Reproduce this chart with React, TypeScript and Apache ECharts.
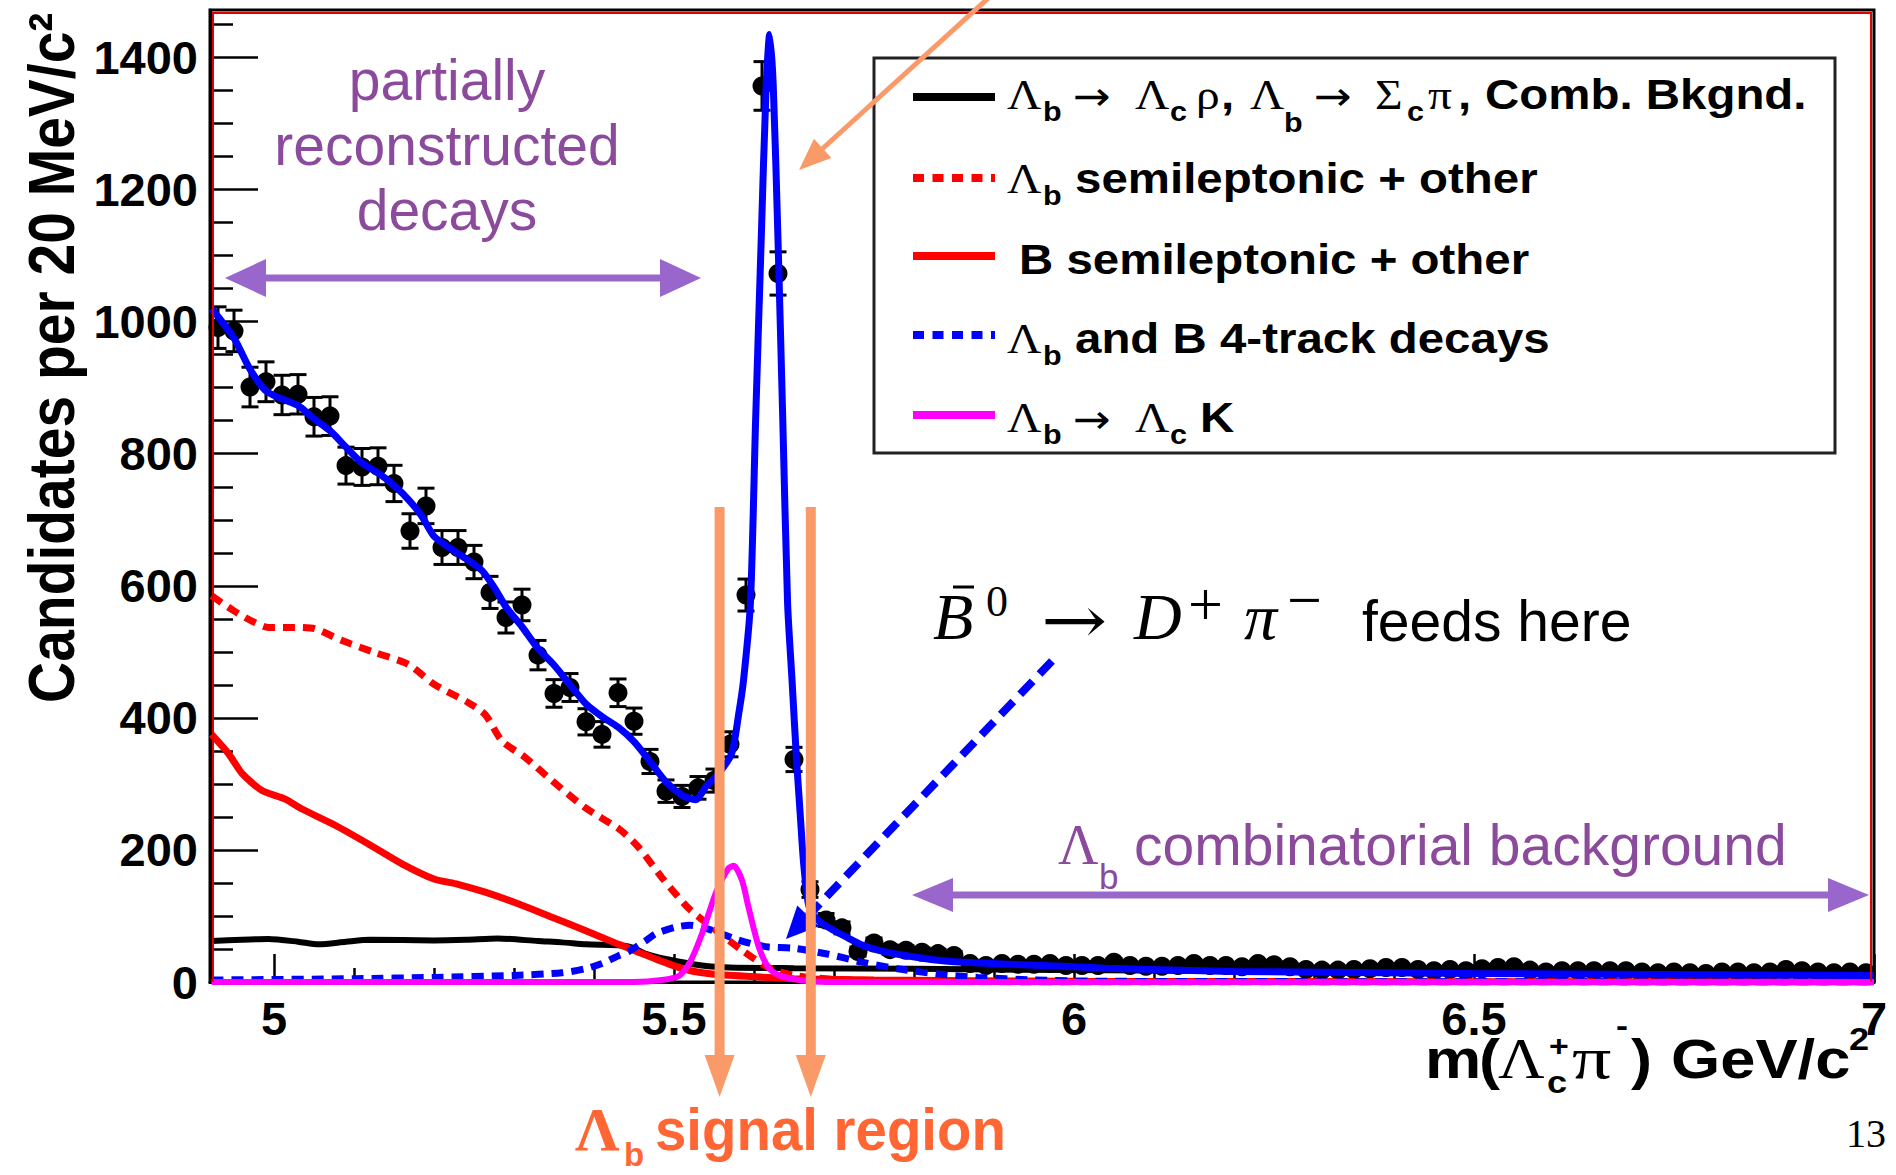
import React, { useEffect, useRef } from 'react';
import * as echarts from 'echarts';

// ---- histogram: Λc⁺π⁻ candidates, 20 MeV/c² bins starting at 4.92 GeV/c² ----
const BIN_LOW = 4.92;
const BIN_WIDTH = 0.02;
const counts = [
  991, 986, 901, 909, 889, 890, 856, 857, 782, 780, // 4.93 – 5.11
  781, 755, 683, 721, 658, 658, 636, 590, 552, 571, // 5.13 – 5.31
  495, 437, 446, 394, 375, 438, 395, 334, 289, 281, // 5.33 – 5.51
  294, 305, 360, 586, 1357, 1073, 337, 140, 94, 82, // 5.53 – 5.71
  46, 59, 49, 48, 45, 43, 40, 28, 25, 28, // 5.73 – 5.91
  27, 27, 28, 25, 25, 25, 30, 25, 24, 24, // 5.93 – 6.11
  25, 28, 25, 25, 23, 28, 26, 23, 19, 18, // 6.13 – 6.31
  18, 19, 20, 22, 22, 19, 17, 19, 17, 20, // 6.33 – 6.51
  22, 23, 18, 15, 17, 17, 17, 17, 17, 15, // 6.53 – 6.71
  14, 15, 14, 13, 15, 15, 14, 15, 19, 17, // 6.73 – 6.91
  15, 14, 15, 14, // 6.93 – 6.99
];

// ---- fit components, [mass GeV/c², candidates] ----
const fitTotal: [number, number][] = [
  [4.922, 1020], [4.95, 975], [4.97, 928], [4.99, 895], [5.01, 883], [5.03, 873], [5.05, 853],
  [5.07, 835], [5.09, 810], [5.11, 786], [5.13, 771], [5.15, 752], [5.17, 728], [5.185, 705],
  [5.2, 675], [5.22, 657], [5.24, 641], [5.26, 623], [5.275, 598], [5.29, 568], [5.31, 538],
  [5.33, 505], [5.35, 480], [5.37, 450], [5.39, 421], [5.41, 402], [5.43, 386], [5.45, 364],
  [5.47, 334], [5.49, 303], [5.51, 283], [5.527, 276], [5.54, 296], [5.556, 316], [5.572, 346],
  [5.581, 407], [5.587, 458], [5.5955, 573], [5.602, 850], [5.609, 1124], [5.615, 1350],
  [5.6196, 1435], [5.624, 1360], [5.63, 1124], [5.636, 850], [5.642, 573], [5.6475, 458],
  [5.653, 340], [5.658, 250], [5.662, 180], [5.668, 118], [5.675, 100], [5.685, 89], [5.7, 78],
  [5.714, 69], [5.735, 56], [5.756, 48], [5.785, 41], [5.83, 33], [5.876, 29], [5.96, 25],
  [6.04, 21], [6.2, 16], [6.5, 13], [7.0, 10],
];
const combBkg: [number, number][] = [
  [4.922, 62], [4.96, 64], [4.993, 65], [5.03, 61], [5.056, 57], [5.09, 61], [5.12, 64],
  [5.2, 63], [5.24, 64], [5.28, 66], [5.33, 62], [5.36, 60], [5.39, 57], [5.443, 54],
  [5.464, 43], [5.493, 34], [5.535, 25], [5.57, 22], [5.65, 21], [5.8, 20], [6.0, 18],
  [6.5, 14], [7.0, 11],
];
const lbSemilep: [number, number][] = [
  [4.922, 585], [4.95, 562], [4.975, 545], [4.993, 537], [5.026, 537], [5.051, 535],
  [5.085, 517], [5.126, 499], [5.168, 481], [5.2, 451], [5.243, 423], [5.264, 405],
  [5.285, 365], [5.314, 340], [5.3475, 305], [5.389, 264], [5.431, 232], [5.455, 205],
  [5.485, 158], [5.518, 112], [5.5475, 83], [5.585, 48], [5.618, 22], [5.65, 10], [5.7, 4],
  [5.8, 1], [6.0, 0], [7.0, 0],
];
const bSemilep: [number, number][] = [
  [4.922, 375], [4.943, 346], [4.96, 316], [4.985, 290], [5.014, 277], [5.035, 262],
  [5.077, 237], [5.118, 209], [5.16, 179], [5.2, 156], [5.23, 148], [5.264, 136], [5.306, 118],
  [5.3475, 98], [5.389, 78], [5.431, 57], [5.4725, 37], [5.514, 19], [5.5475, 12], [5.6, 8],
  [5.65, 5], [5.75, 3], [6.0, 1], [7.0, 0],
];
const fourTrack: [number, number][] = [
  [4.922, 3], [5.1, 5], [5.2, 7], [5.3, 10], [5.36, 14], [5.389, 20], [5.41, 28], [5.431, 40],
  [5.443, 46], [5.464, 62], [5.477, 73], [5.502, 83], [5.52, 86], [5.535, 83], [5.555, 75],
  [5.577, 65], [5.6, 57], [5.618, 53], [5.65, 51], [5.693, 42], [5.735, 30], [5.78, 20],
  [5.83, 12], [5.88, 7], [5.95, 3], [6.05, 1], [7.0, 0],
];
const lbToLcK: [number, number][] = [
  [4.922, 0], [5.45, 0], [5.485, 3], [5.506, 9], [5.52, 30], [5.535, 73], [5.552, 134],
  [5.568, 172], [5.5746, 176], [5.585, 154], [5.593, 114], [5.606, 53], [5.618, 22],
  [5.63, 11], [5.643, 6], [5.67, 1], [5.7, 0], [7.0, 0],
];

// ---- axes ----
const X_MIN = 4.92;
const X_MAX = 7.0;
const Y_MAX = 1472;
const xMajorTicks = [5, 5.5, 6, 6.5, 7];
const xMinorTicks = [5.1, 5.2, 5.3, 5.4, 5.6, 5.7, 5.8, 5.9, 6.1, 6.2, 6.3, 6.4, 6.6, 6.7, 6.8, 6.9];
const yMajorTicks = [0, 200, 400, 600, 800, 1000, 1200, 1400];
const yMinorTicks = [50, 100, 150, 250, 300, 350, 450, 500, 550, 650, 700, 750, 850, 900, 950,
  1050, 1100, 1150, 1250, 1300, 1350, 1450];
const signalWindow = [5.557, 5.671];

const SANS = '"Liberation Sans", Arial, Helvetica, sans-serif';
const SERIF = '"Liberation Serif", "Times New Roman", serif';
const ARROWS = '"DejaVu Sans", sans-serif';
const MATH_ARROW = '"DejaVu Serif", serif';
const K = 1.13; // horizontal stretch of the plot's own lettering
const PURPLE_TEXT = '#8B4A9C';
const PURPLE_ARROW = '#9966CC';
const ORANGE_LINE = '#FA9A68';
const ORANGE_TEXT = '#FF6633';

type Opt = { family?: string; weight?: string; italic?: boolean; color?: string; sx?: number; align?: string; z?: number };

// text placed by its alphabetic baseline
function label(x: number, baseline: number, text: string, size: number, o: Opt = {}): any {
  const family = o.family ?? SANS;
  const central = family === SERIF ? 0.3375 : 0.3465;
  return {
    type: 'text', x, y: baseline - central * size, scaleX: o.sx ?? 1, z: o.z ?? 100, silent: true,
    style: {
      text, fontSize: size, fontFamily: family, fontWeight: o.weight ?? 'normal',
      fontStyle: o.italic ? 'italic' : 'normal', fill: o.color ?? '#000',
      align: o.align ?? 'left', verticalAlign: 'middle',
    },
  };
}

function arrow(x1: number, y1: number, x2: number, y2: number, color: string, width: number,
  headLen: number, headHalf: number, dash?: number[], z = 100): any[] {
  const dx = x2 - x1, dy = y2 - y1, L = Math.hypot(dx, dy);
  const ux = dx / L, uy = dy / L, nx = -uy, ny = ux;
  const bx = x2 - ux * headLen, by = y2 - uy * headLen;
  return [
    { type: 'line', z, silent: true, shape: { x1, y1, x2: bx, y2: by }, style: { stroke: color, lineWidth: width, lineDash: dash } },
    { type: 'polygon', z, silent: true, shape: { points: [[x2, y2], [bx + nx * headHalf, by + ny * headHalf], [bx - nx * headHalf, by - ny * headHalf]] }, style: { fill: color } },
  ];
}

function doubleArrow(xa: number, xb: number, y: number, color: string, width: number, headLen: number, headHalf: number): any[] {
  return [
    { type: 'line', z: 100, silent: true, shape: { x1: xa + headLen, y1: y, x2: xb - headLen, y2: y }, style: { stroke: color, lineWidth: width } },
    { type: 'polygon', z: 100, silent: true, shape: { points: [[xa, y], [xa + headLen, y - headHalf], [xa + headLen, y + headHalf]] }, style: { fill: color } },
    { type: 'polygon', z: 100, silent: true, shape: { points: [[xb, y], [xb - headLen, y - headHalf], [xb - headLen, y + headHalf]] }, style: { fill: color } },
  ];
}

function legendGraphics(): any[] {
  const g: any[] = [];
  g.push({ type: 'rect', z: 90, silent: true, shape: { x: 874, y: 58, width: 961, height: 395 }, style: { fill: '#fff', stroke: '#222', lineWidth: 3 } });
  const sample = (y: number, color: string, dotted: boolean) => g.push({
    type: 'line', z: 100, silent: true, shape: { x1: 913, y1: y, x2: 995, y2: y },
    style: { stroke: color, lineWidth: 8, lineDash: dotted ? [11, 8.5] : undefined },
  });
  const L = (x: number, b: number, t: string) => g.push(label(x, b, t, 42, { family: SERIF, sx: K }));
  const S = (x: number, b: number, t: string) => g.push(label(x, b, t, 27, { weight: 'bold', sx: K }));
  const B = (x: number, b: number, t: string) => g.push(label(x, b, t, 42, { weight: 'bold', sx: K }));
  const A = (x: number, b: number) => g.push(label(x, b, '→', 40, { family: ARROWS, sx: K }));

  // row 1
  sample(97, '#000000', false);
  L(1007, 109, 'Λ'); S(1043, 121, 'b'); A(1073, 110); L(1135, 109, 'Λ'); S(1170, 121, 'c');
  L(1196, 109, 'ρ'); B(1221, 109, ','); L(1250, 109, 'Λ'); S(1284, 132, 'b'); A(1314, 110);
  L(1375, 109, 'Σ'); S(1407, 121, 'c'); L(1428, 109, 'π'); B(1458, 109, ','); B(1485, 109, 'Comb. Bkgnd.');
  // row 2
  sample(178, '#FF0000', true);
  L(1007, 193, 'Λ'); S(1043, 205, 'b'); B(1075, 193, 'semileptonic + other');
  // row 3
  sample(256, '#FF0000', false);
  B(1019, 274, 'B semileptonic + other');
  // row 4
  sample(335, '#0000FF', true);
  L(1007, 353, 'Λ'); S(1043, 365, 'b'); B(1075, 353, 'and B 4-track decays');
  // row 5
  sample(415, '#FF00FF', false);
  L(1007, 432, 'Λ'); S(1043, 444, 'b'); A(1073, 433); L(1135, 432, 'Λ'); S(1170, 444, 'c'); B(1200, 432, 'K');
  return g;
}

function axisTitles(): any[] {
  const g: any[] = [];
  // vertical title, read bottom to top
  g.push({
    type: 'text', x: 52, y: 703, rotation: Math.PI / 2, scaleY: K, z: 100, silent: true,
    style: { text: 'Candidates per 20 MeV/c²', fontSize: 57, fontFamily: SANS, fontWeight: 'bold', fill: '#000', align: 'left', verticalAlign: 'middle' },
  });
  // m(Λc⁺ π⁻) GeV/c²
  g.push(label(1425, 1078, 'm', 56, { weight: 'bold', sx: K }));
  g.push(label(1479, 1078, '(', 56, { weight: 'bold', sx: K }));
  g.push(label(1498, 1078, 'Λ', 57, { family: SERIF, sx: K }));
  g.push(label(1549, 1056, '+', 30, { weight: 'bold', sx: K }));
  g.push(label(1547, 1093, 'c', 32, { weight: 'bold', sx: K }));
  g.push(label(1572, 1078, 'π', 60, { family: SERIF, sx: 1.3 }));
  g.push(label(1616, 1036, '-', 32, { weight: 'bold', sx: K }));
  g.push(label(1631, 1078, ')', 56, { weight: 'bold', sx: K }));
  g.push(label(1671, 1078, 'GeV/c', 56, { weight: 'bold', sx: K }));
  g.push(label(1849, 1050, '2', 32, { weight: 'bold', sx: K }));
  return g;
}

function annotations(sig: number[]): any[] {
  const g: any[] = [];
  // partially reconstructed region
  g.push(label(447, 100, 'partially', 57, { color: PURPLE_TEXT, align: 'center' }));
  g.push(label(447, 165, 'reconstructed', 57, { color: PURPLE_TEXT, align: 'center' }));
  g.push(label(447, 230, 'decays', 57, { color: PURPLE_TEXT, align: 'center' }));
  g.push(...doubleArrow(225, 701, 278, PURPLE_ARROW, 7, 41, 19));
  // combinatorial background region
  g.push(label(1058, 864, 'Λ', 56, { family: SERIF, color: PURPLE_TEXT }));
  g.push(label(1099, 889, 'b', 35, { color: PURPLE_TEXT }));
  g.push(label(1134, 865, 'combinatorial background', 57, { color: PURPLE_TEXT }));
  g.push(...doubleArrow(912, 1869, 895, PURPLE_ARROW, 7, 41, 17));
  // B̄⁰ → D⁺π⁻ reflection
  g.push(label(933, 639, 'B', 66, { family: SERIF, italic: true }));
  g.push({ type: 'line', z: 100, silent: true, shape: { x1: 953, y1: 587, x2: 974, y2: 587 }, style: { stroke: '#000', lineWidth: 3 } });
  g.push(label(986, 616, '0', 44, { family: SERIF }));
  g.push(label(1041, 643, '→', 66, { family: MATH_ARROW, sx: 1.2 }));
  g.push(label(1134, 639, 'D', 66, { family: SERIF, italic: true }));
  g.push(label(1188, 625, '+', 62, { family: SERIF }));
  g.push(label(1244, 639, 'π', 66, { family: SERIF, italic: true }));
  g.push(label(1287, 621, '−', 62, { family: SERIF }));
  g.push(label(1362, 641, 'feeds here', 57));
  g.push(...arrow(1052, 661, 786, 939, '#0000FF', 8, 32, 15, [18, 10]));
  // signal window
  for (const px of sig) g.push(...arrow(px, 507, px, 1097, ORANGE_LINE, 10, 42, 15));
  g.push(label(575, 1150, 'Λ', 62, { family: SERIF, weight: 'bold', color: ORANGE_TEXT }));
  g.push(label(624, 1166, 'b', 33, { weight: 'bold', color: ORANGE_TEXT }));
  g.push(label(655, 1150, 'signal region', 60, { weight: 'bold', color: ORANGE_TEXT, sx: 0.94 }));
  // arrow from the top onto the peak
  g.push(...arrow(995, -8, 799, 170, ORANGE_LINE, 5, 32, 13, undefined, 110));
  // inner red rule of the frame
  g.push({ type: 'polyline', z: 95, silent: true, shape: { points: [[213, 982], [213, 13], [1871, 13], [1871, 982]] }, style: { stroke: '#E00000', lineWidth: 2, fill: 'none' } });
  // page number
  g.push(label(1846, 1147, '13', 40, { family: SERIF }));
  return g;
}

export default function App() {
  const ref = useRef<HTMLDivElement>(null);

  useEffect(() => {
    if (!ref.current) return;
    const chart = echarts.init(ref.current, null, { renderer: 'svg' });

    const points = counts.map((c, i) => [BIN_LOW + (i + 0.5) * BIN_WIDTH, c]);
    const tickStyle = { color: '#000', width: 2.5 };
    const axisFont = { fontFamily: SANS, fontWeight: 'bold' as const, fontSize: 47, color: '#000' };
    const plain = (v: number) => String(v);
    const lineSeries = (name: string, data: [number, number][], color: string, width: number, dashed: boolean, z: number) => ({
      type: 'line', name, data, symbol: 'none', showSymbol: false, smooth: 0.25, z, silent: true,
      lineStyle: { color, width, type: dashed ? [12, 8] : 'solid', cap: 'butt' },
    });

    chart.setOption({
      animation: false,
      backgroundColor: '#ffffff',
      grid: { left: 210, right: 22, top: 10, bottom: 193, show: true, borderColor: '#000', borderWidth: 3, backgroundColor: 'transparent' },
      xAxis: [
        {
          type: 'value', min: X_MIN, max: X_MAX, position: 'bottom',
          axisLine: { show: true, lineStyle: { color: '#000', width: 3 } },
          axisTick: { show: true, inside: true, length: 28, customValues: xMajorTicks, lineStyle: tickStyle },
          axisLabel: { show: true, customValues: xMajorTicks, margin: 13, formatter: plain, ...axisFont },
          splitLine: { show: false },
        },
        {
          type: 'value', min: X_MIN, max: X_MAX, position: 'bottom',
          axisLine: { show: false },
          axisTick: { show: true, inside: true, length: 14, customValues: xMinorTicks, lineStyle: tickStyle },
          axisLabel: { show: false },
          splitLine: { show: false },
        },
      ],
      yAxis: [
        {
          type: 'value', min: 0, max: Y_MAX, position: 'left',
          axisLine: { show: true, lineStyle: { color: '#000', width: 3 } },
          axisTick: { show: true, inside: true, length: 48, customValues: yMajorTicks, lineStyle: tickStyle },
          axisLabel: { show: true, customValues: yMajorTicks, margin: 12, formatter: plain, ...axisFont },
          splitLine: { show: false },
        },
        {
          type: 'value', min: 0, max: Y_MAX, position: 'left',
          axisLine: { show: false },
          axisTick: { show: true, inside: true, length: 23, customValues: yMinorTicks, lineStyle: tickStyle },
          axisLabel: { show: false },
          splitLine: { show: false },
        },
      ],
      series: [
        {
          type: 'custom', name: 'Data errors', silent: true, z: 3,
          // Poisson uncertainty on each bin
          data: points.map(([x, y]) => [x, y, Math.sqrt(y)]),
          encode: { x: 0, y: 1 },
          renderItem: (_p: any, api: any) => {
            const x = api.value(0), y = api.value(1), e = api.value(2);
            const hi = api.coord([x, y + e]);
            const lo = api.coord([x, y - e]);
            const cap = 8.5;
            const st = { stroke: '#000', lineWidth: 3 };
            return {
              type: 'group',
              children: [
                { type: 'line', shape: { x1: hi[0], y1: hi[1], x2: lo[0], y2: lo[1] }, style: st },
                { type: 'line', shape: { x1: hi[0] - cap, y1: hi[1], x2: hi[0] + cap, y2: hi[1] }, style: st },
                { type: 'line', shape: { x1: lo[0] - cap, y1: lo[1], x2: lo[0] + cap, y2: lo[1] }, style: st },
              ],
            };
          },
        },
        { type: 'scatter', name: 'Data', data: points, symbol: 'circle', symbolSize: 19, itemStyle: { color: '#000', opacity: 1 }, z: 4, silent: true },
        lineSeries('Λb → Λc ρ, Λb → Σc π, Comb. Bkgnd.', combBkg, '#000000', 6, false, 5),
        lineSeries('B semileptonic + other', bSemilep, '#FF0000', 7, false, 6),
        lineSeries('Λb semileptonic + other', lbSemilep, '#FF0000', 7, true, 7),
        lineSeries('Λb and B 4-track decays', fourTrack, '#0000FF', 7, true, 8),
        lineSeries('Total fit', fitTotal, '#0000FF', 7, false, 9),
        lineSeries('Λb → Λc K', lbToLcK, '#FF00FF', 6, false, 10),
      ],
    });

    const sig = signalWindow.map((m) => chart.convertToPixel({ xAxisIndex: 0 }, m) as number);
    chart.setOption({
      graphic: { elements: [...legendGraphics(), ...axisTitles(), ...annotations(sig)] },
    });

    return () => chart.dispose();
  }, []);

  return (
    <div
      ref={ref}
      style={{ position: 'absolute', left: 0, top: 0, width: 1896, height: 1175, background: '#fff' }}
    />
  );
}
